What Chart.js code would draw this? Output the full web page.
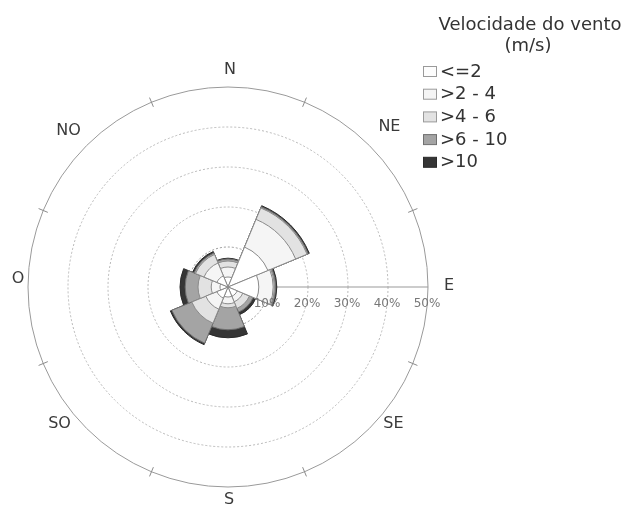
<!DOCTYPE html>
<html>
<head>
<meta charset="utf-8">
<script src="https://cdn.jsdelivr.net/npm/chart.js"></script>
<style>
  html, body { margin: 0; padding: 0; background: #fff; }
  #wrap { width: 625px; height: 506px; }
</style>
</head>
<body>
<div id="wrap"><canvas id="rosa"></canvas></div>
<script>
const direcoes = ['N', 'NE', 'E', 'SE', 'S', 'SO', 'O', 'NO'];
const classes = ['<=2', '>2 - 4', '>4 - 6', '>6 - 10', '>10'];

// frequencia (%) de cada classe de velocidade por direcao
const ate2    = [2.5, 10.8, 7.7, 2.5, 2.5, 3.0, 2.0, 3.0];
const de2a4   = [2.5, 7.5, 3.6, 1.5, 1.7, 3.0, 2.2, 3.5];
const de4a6   = [1.5, 3.1, 0.3, 1.8, 1.0, 3.8, 3.3, 2.3];
const de6a10  = [0.5, 0.3, 0.3, 1.0, 5.5, 5.4, 3.2, 0.4];
const acima10 = [0.2, 0.3, 0.3, 0.7, 2.0, 0.4, 1.3, 0.4];

const escala = [10, 20, 30, 40, 50];

const cores  = ['#ffffff', '#f5f5f5', '#e2e2e2', '#a4a4a4', '#353535'];
const bordas = ['#8a8a8a', '#8a8a8a', '#8a8a8a', '#707070', '#2a2a2a'];

// polarArea nao empilha: cada classe e desenhada com o valor acumulado,
// a de menor velocidade por cima
const series = [ate2, de2a4, de4a6, de6a10, acima10];
let soma = direcoes.map(() => 0);
const datasets = series.map((s, i) => {
  soma = soma.map((v, j) => v + s[j]);
  return {
    label: classes[i],
    data: soma.slice(),
    backgroundColor: cores[i],
    borderColor: bordas[i],
    borderWidth: 1
  };
});

const fonte = '"DejaVu Sans", Verdana, sans-serif';
// pequeno deslocamento de cada rotulo de direcao, como no original
const ajuste = [[2, 0], [8, -7], [4, -1], [12, -17], [1, -4], [-15, -17], [7, -8], [-6, -3]];

const rosaExtras = {
  id: 'rosaExtras',
  beforeDatasetsDraw(chart) {
    const ctx = chart.ctx;
    const r = chart.scales.r;
    const meio = Math.PI / direcoes.length;
    // eixo radial para leste, por baixo das barras
    const fim = r.getPointPosition(direcoes.indexOf('E'), r.drawingArea, meio);
    ctx.save();
    ctx.strokeStyle = '#9a9a9a';
    ctx.lineWidth = 1.2;
    ctx.beginPath();
    ctx.moveTo(r.xCenter, r.yCenter);
    ctx.lineTo(fim.x, fim.y);
    ctx.stroke();
    ctx.restore();
  },
  afterDatasetsDraw(chart) {
    const ctx = chart.ctx;
    const r = chart.scales.r;
    const raio = r.drawingArea;
    const meio = Math.PI / direcoes.length;
    ctx.save();

    // marcas curtas no circulo externo, entre as direcoes
    ctx.strokeStyle = '#8a8a8a';
    ctx.lineWidth = 1;
    for (let i = 0; i < direcoes.length; i++) {
      const a = r.getPointPosition(i, raio - 5);
      const b = r.getPointPosition(i, raio + 5);
      ctx.beginPath();
      ctx.moveTo(a.x, a.y);
      ctx.lineTo(b.x, b.y);
      ctx.stroke();
    }

    // rotulos do eixo radial
    const iE = direcoes.indexOf('E');
    ctx.fillStyle = '#777';
    ctx.font = '12px ' + fonte;
    ctx.textAlign = 'center';
    ctx.textBaseline = 'middle';
    escala.forEach(v => {
      const p = r.getPointPosition(iE, r.getDistanceFromCenterForValue(v), meio);
      ctx.fillText(v + '%', p.x - 1, p.y + 17);
    });

    // direcoes
    ctx.fillStyle = '#3a3a3a';
    ctx.font = '16px ' + fonte;
    direcoes.forEach((d, i) => {
      const p = r.getPointPosition(i, raio + 17, meio);
      ctx.fillText(d, p.x + ajuste[i][0], p.y + ajuste[i][1]);
    });

    // legenda
    ctx.fillStyle = '#333';
    ctx.font = '18px ' + fonte;
    ctx.fillText('Velocidade do vento', 530, 25);
    ctx.fillText('(m/s)', 528, 46);
    ctx.textAlign = 'left';
    classes.forEach((c, i) => {
      const y = 72 + i * 22.7;
      ctx.fillStyle = cores[i] === '#ffffff' ? '#fdfdfd' : cores[i];
      ctx.fillRect(423.5, y - 5.5, 13, 10);
      ctx.strokeStyle = i < 3 ? '#9a9a9a' : bordas[i];
      ctx.strokeRect(423.5, y - 5.5, 13, 10);
      ctx.fillStyle = '#333';
      ctx.fillText(c, 440, y);
    });

    ctx.restore();
  }
};

new Chart(document.getElementById('rosa'), {
  type: 'polarArea',
  data: {
    labels: direcoes,
    datasets: datasets
  },
  options: {
    responsive: true,
    maintainAspectRatio: false,
    animation: false,
    layout: { padding: { left: 28, right: 196, top: 87, bottom: 18 } },
    scales: {
      r: {
        min: 0,
        max: 50,
        startAngle: -22.5,
        ticks: { display: false, stepSize: 10 },
        grid: {
          circular: true,
          color: ctx => ctx.index === escala.length ? '#9a9a9a' : (ctx.index === 1 ? '#999' : '#b8b8b8'),
          lineWidth: 1
        },
        border: { dash: ctx => ctx.index === escala.length ? [] : [2, 2] },
        angleLines: { display: false },
        pointLabels: { display: false }
      }
    },
    plugins: {
      legend: { display: false },
      tooltip: { enabled: false }
    }
  },
  plugins: [rosaExtras]
});
</script>
</body>
</html>
